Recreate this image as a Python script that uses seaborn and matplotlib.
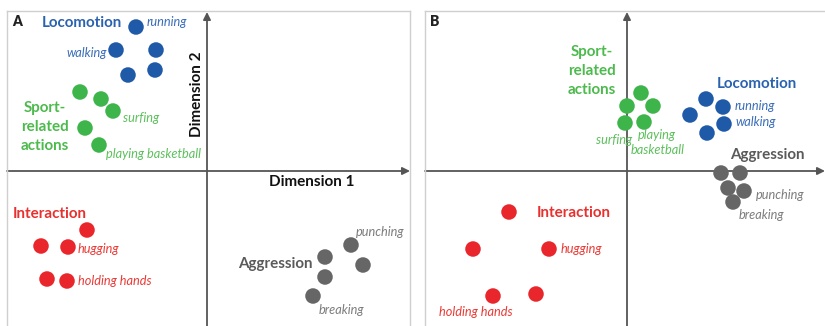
import numpy as np
import pandas as pd
import matplotlib
matplotlib.use("Agg")
import matplotlib.pyplot as plt
import seaborn as sns

# DATA
groups = ["Locomotion", "Sport-related actions", "Interaction", "Aggression"]
group_of_point = np.repeat(groups, 5)

# panel A (dimension coordinates)
a_dim1 = [-0.71, -0.91, -0.51, -0.79, -0.52,
          -1.27, -1.06, -0.94, -1.22, -1.08,
          -1.20, -1.66, -1.39, -1.60, -1.40,
          1.44, 1.18, 1.56, 1.18, 1.06]
a_dim2 = [1.44, 1.21, 1.21, 0.96, 1.01,
          0.79, 0.72, 0.60, 0.43, 0.26,
          -0.59, -0.75, -0.76, -1.08, -1.10,
          -0.74, -0.86, -0.94, -1.06, -1.25]

# panel B
b_dim1 = [0.79, 0.96, 0.63, 0.97, 0.80,
          0.14, 0.00, 0.26, -0.02, 0.17,
          -1.18, -1.54, -0.78, -1.34, -0.91,
          0.94, 1.13, 1.01, 1.17, 1.06]
b_dim2 = [0.72, 0.64, 0.56, 0.47, 0.38,
          0.78, 0.65, 0.65, 0.48, 0.49,
          -0.41, -0.78, -0.78, -1.25, -1.23,
          -0.02, -0.02, -0.17, -0.20, -0.31]

dot_colors = ["#1f5aa8", "#3db54a", "#e8262b", "#666666"]
text_colors = ["#2a62b0", "#4cba4c", "#e8302e", "#5a5a5a"]
item_colors = ["#3a6db8", "#5dc05d", "#ea3a36", "#7c7c7c"]

# label text, anchor (dim1, dim2), group index, ha
a_group_labels = [
    ("Locomotion", -1.65, 1.48, 0, "left"),
    ("Sport-\nrelated\nactions", -1.62, 0.44, 1, "center"),
    ("Interaction", -1.94, -0.43, 2, "left"),
    ("Aggression", 1.06, -0.93, 3, "right"),
]
a_item_labels = [
    ("running", -0.60, 1.49, 0, "left"),
    ("walking", -1.00, 1.18, 0, "right"),
    ("surfing", -0.84, 0.53, 1, "left"),
    ("playing basketball", -1.01, 0.17, 1, "left"),
    ("hugging", -1.29, -0.78, 2, "left"),
    ("holding hands", -1.29, -1.10, 2, "left"),
    ("punching", 1.49, -0.61, 3, "left"),
    ("breaking", 1.12, -1.39, 3, "left"),
]
b_group_labels = [
    ("Locomotion", 0.90, 0.87, 0, "left"),
    ("Sport-\nrelated\nactions", -0.35, 1.00, 1, "center"),
    ("Interaction", -0.90, -0.42, 2, "left"),
    ("Aggression", 1.03, 0.16, 3, "left"),
]
b_item_labels = [
    ("running", 1.08, 0.65, 0, "left"),
    ("walking", 1.08, 0.49, 0, "left"),
    ("surfing", -0.31, 0.31, 1, "left"),
    ("playing", 0.11, 0.36, 1, "left"),
    ("basketball", 0.04, 0.21, 1, "left"),
    ("hugging", -0.66, -0.78, 2, "left"),
    ("holding hands", -1.88, -1.41, 2, "left"),
    ("punching", 1.29, -0.24, 3, "left"),
    ("breaking", 1.12, -0.44, 3, "left"),
]

sns.set_style("white")
plt.rcParams["font.family"] = ["Lato", "DejaVu Sans"]

W, H = 825, 326
fig = plt.figure(figsize=(W / 100, H / 100), dpi=100)


def draw_panel(rect, xlim, ylim, dim1, dim2, group_labels, item_labels, letter, axis_titles):
    ax = fig.add_axes(rect)
    df = pd.DataFrame({"dim1": dim1, "dim2": dim2, "group": group_of_point})
    sns.scatterplot(
        data=df, x="dim1", y="dim2", hue="group",
        palette=dict(zip(groups, dot_colors)),
        s=125, edgecolor="none", legend=False, ax=ax, zorder=3
    )
    ax.set_xlim(*xlim)
    ax.set_ylim(*ylim)
    ax.set_xticks([])
    ax.set_yticks([])
    ax.set_xlabel("")
    ax.set_ylabel("")
    for side in ["top", "left", "right"]:
        ax.spines[side].set_color("#cfcfcf")
        ax.spines[side].set_linewidth(1.0)
    ax.spines["bottom"].set_visible(False)
    ax.spines["right"].set_visible(letter == "A")

    arrow = dict(arrowstyle="-|>", color="#555555", lw=1.3,
                 mutation_scale=11, shrinkA=0, shrinkB=0)
    ax.annotate("", xy=(xlim[1], 0), xytext=(xlim[0], 0),
                arrowprops=arrow, annotation_clip=False, zorder=2)
    ax.annotate("", xy=(0, ylim[1] - 0.01), xytext=(0, ylim[0]),
                arrowprops=arrow, annotation_clip=False, zorder=2)

    ax.text(xlim[0] + 0.05, ylim[1] - 0.11, letter, fontsize=10,
            fontweight="heavy", color="#222222", ha="left", va="center")

    for txt, x, y, g, ha in group_labels:
        ax.text(x, y, txt, color=text_colors[g], fontsize=10.9,
                fontweight="bold", ha=ha, va="center",
                linespacing=1.45, multialignment="center")
    for txt, x, y, g, ha in item_labels:
        ax.text(x, y, txt, color=item_colors[g], fontsize=9.2,
                style="italic", ha=ha, va="center")

    if axis_titles:
        ax.text(1.05, -0.11, "Dimension 1", fontsize=11, fontweight="bold",
                color="#111111", ha="center", va="center")
        ax.text(-0.10, 0.77, "Dimension 2", fontsize=11, fontweight="bold",
                color="#111111", ha="center", va="center", rotation=90)
    return ax


draw_panel([7 / W, 0, 403 / W, 315 / H], (-2.00, 2.03), (-1.55, 1.60),
           a_dim1, a_dim2, a_group_labels, a_item_labels, "A", True)
draw_panel([425 / W, 0, 400 / W, 315 / H], (-2.02, 1.98), (-1.55, 1.60),
           b_dim1, b_dim2, b_group_labels, b_item_labels, "B", False)

plt.savefig("out.png", dpi=100)
